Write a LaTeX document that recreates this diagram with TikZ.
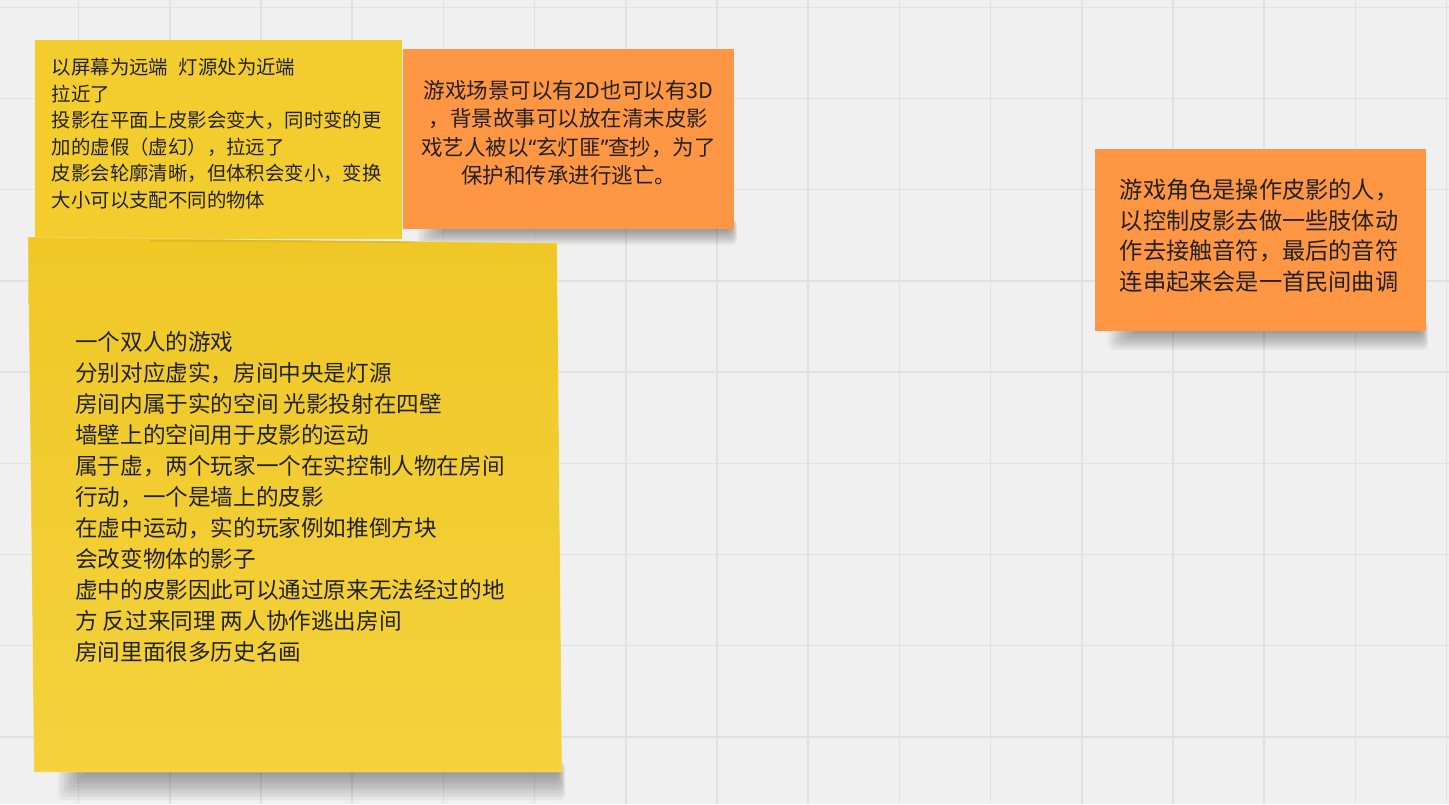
\documentclass[tikz,border=0pt]{standalone}
\usepackage{fontspec}
\setmainfont{Noto Sans CJK SC}
\newfontfamily\latinquote{Noto Sans}
\usepackage{tikz}

\definecolor{board}{HTML}{F0F0F0}
\definecolor{gridline}{HTML}{E1E1E1}
\definecolor{noteyellow}{HTML}{F3CD2D}
\definecolor{noteyellowdark}{HTML}{EFC826}
\definecolor{noteyellowlight}{HTML}{F5D23D}
\definecolor{noteorange}{HTML}{FF9643}
\definecolor{ink}{HTML}{222222}

\begin{document}
\begin{tikzpicture}[x=1pt,y=-1pt,
    notetext/.style={inner sep=0pt, text=ink},
    shadowlayer/.style={fill=black, opacity=0.045, rounded corners=6pt}]
    % Define the grid step and the offsets of the board
    \pgfmathsetmacro{\Gstep}{91.2}
    \pgfmathsetmacro{\Gx}{78.6}
    \pgfmathsetmacro{\Gy}{7.3}

    % Draw the board
    \fill[board] (0,0) rectangle (1449,804);
    \useasboundingbox (0,0) rectangle (1449,804);

    % Draw the grid
    \foreach \i in {0,...,15}
        \draw[gridline, line width=1.5pt] ({\Gx+\i*\Gstep},0) -- ({\Gx+\i*\Gstep},804);
    \foreach \j in {0,...,8}
        \draw[gridline, line width=1.5pt] (0,{\Gy+\j*\Gstep}) -- (1449,{\Gy+\j*\Gstep});

    % Draw the soft shadows below the notes (left end / right end / bottom / depth)
    \foreach \xa/\xb/\yb/\d in {445/730/229/16, 1135/1421/331/19, 85/558/772/28}
        \foreach \s in {1,...,9}
            \fill[shadowlayer] ({\xa-\s*3},{\yb-10}) rectangle ({\xb+\s*0.8},{\yb+\s*\d/9});

    % Draw the notes
    \fill[noteyellow] (35,40) rectangle (402,239);
    \shade[top color=noteyellowdark, bottom color=noteyellowlight]
        (28,237) -- (557,243) -- (562,772) -- (34,772) -- cycle;
    \draw[white, opacity=0.25, line width=0.8pt]
        (28,237) -- (557,243) -- (562,772) -- (34,772) -- cycle;
    % % faint crease under the small yellow note
    \draw[black, opacity=0.06, line width=2pt] (150,240.5) -- (415,242);
    \fill[noteorange] (403,49) rectangle (734,229);
    \fill[noteorange] (1095,149) rectangle (1426,331);

    % Write the texts of the notes
    \node[notetext, anchor=north west, align=left, font=\fontsize{19.4}{26.6}\selectfont] (screen) at (51.7,58)
        {以屏幕为远端\hspace{0.55em}灯源处为近端\\拉近了\\投影在平面上皮影会变大，同时变的更\\加的虚假（虚幻），拉远了\\皮影会轮廓清晰，但体积会变小，变换\\大小可以支配不同的物体};

    \node[notetext, anchor=north, align=center, font=\fontsize{21.5}{28.4}\selectfont] (story) at (568.5,80)
        {游戏场景可以有2D也可以有3D\\，背景故事可以放在清末皮影\\戏艺人被以{\latinquote “}玄灯匪{\latinquote ”}查抄，为了\\保护和传承进行逃亡。};

    \node[notetext, anchor=north, align=center, font=\fontsize{23.2}{30.5}\selectfont] (role) at (1259,179)
        {游戏角色是操作皮影的人，\\以控制皮影去做一些肢体动\\作去接触音符，最后的音符\\连串起来会是一首民间曲调};

    \node[notetext, anchor=north west, align=left, font=\fontsize{22.6}{31}\selectfont] (play) at (75,331)
        {一个双人的游戏\\分别对应虚实，房间中央是灯源\\房间内属于实的空间 光影投射在四壁\\墙壁上的空间用于皮影的运动\\属于虚，两个玩家一个在实控制人物在房间\\行动，一个是墙上的皮影\\在虚中运动，实的玩家例如推倒方块\\会改变物体的影子\\虚中的皮影因此可以通过原来无法经过的地\\方 反过来同理 两人协作逃出房间\\房间里面很多历史名画};
\end{tikzpicture}
\end{document}
